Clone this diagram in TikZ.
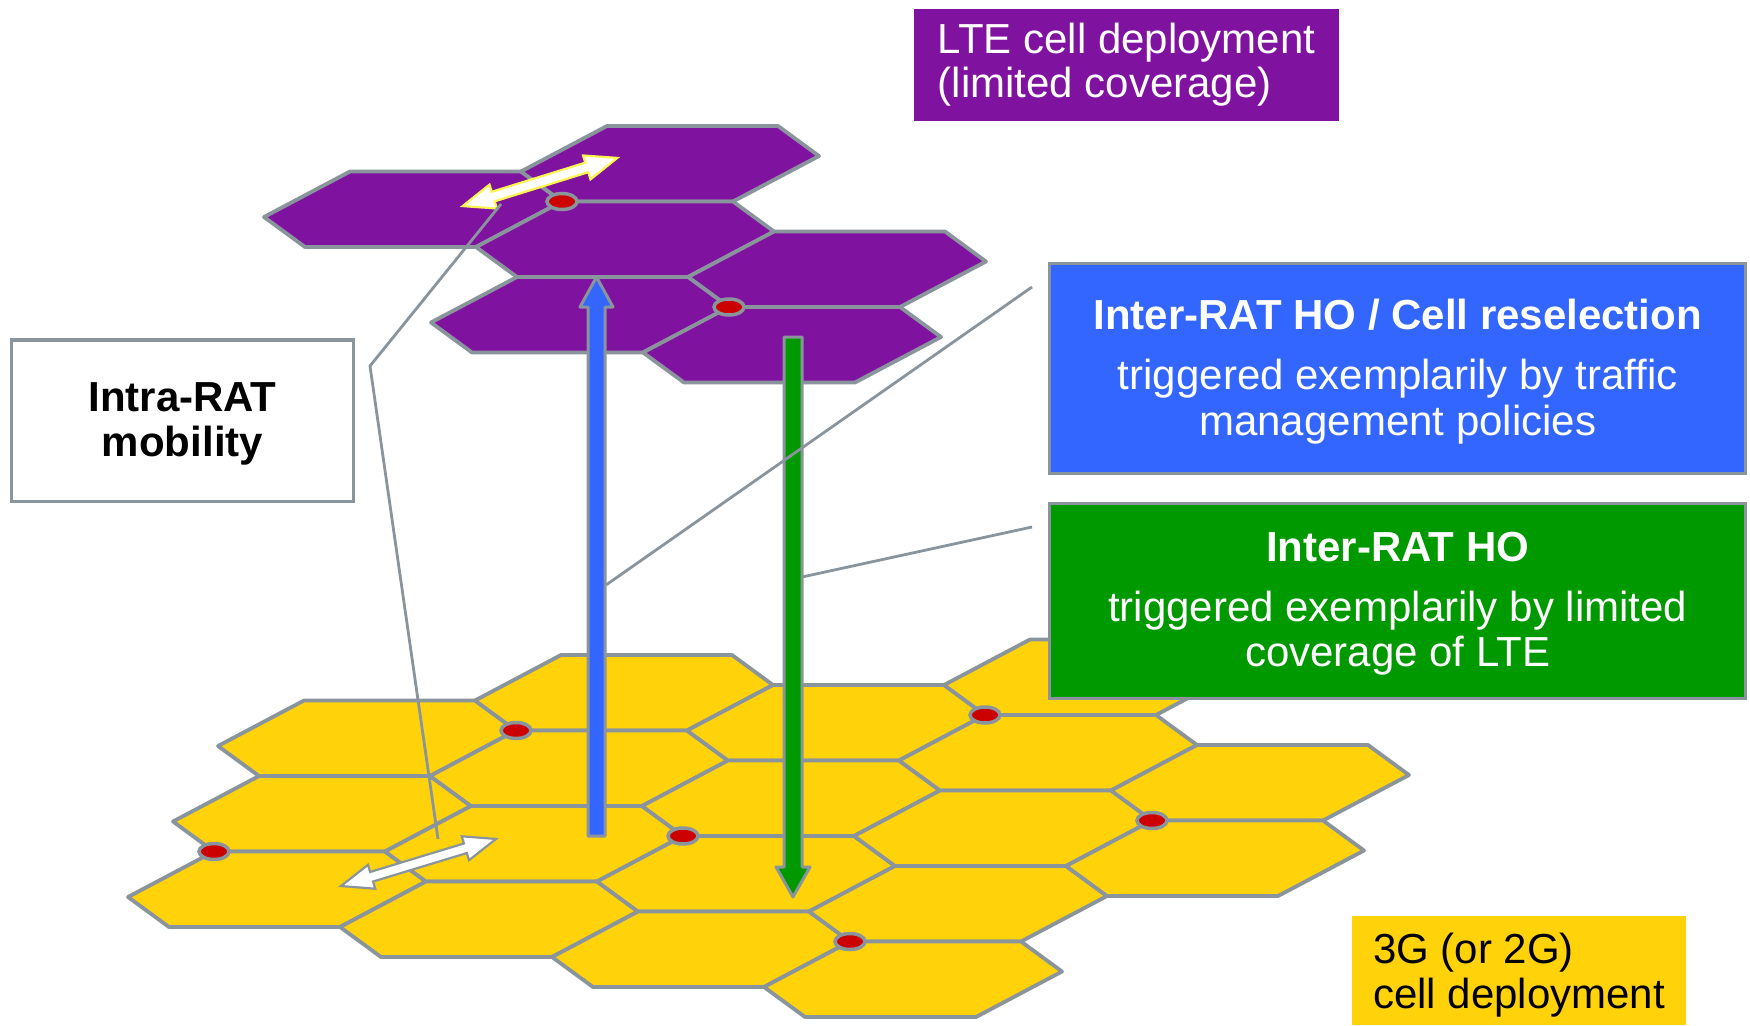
\documentclass[tikz,border=0pt]{standalone}
\usepackage{fontspec}
\setmainfont{Liberation Sans}

\definecolor{cellgray}{RGB}{138,148,156}
\definecolor{ltepurple}{RGB}{128,18,160}
\definecolor{umtsyellow}{RGB}{255,210,10}
\definecolor{hoblue}{RGB}{51,102,255}
\definecolor{hogreen}{RGB}{0,153,0}
\definecolor{bsred}{RGB}{204,0,0}
\definecolor{glowyellow}{RGB}{255,245,80}

\newcommand\boxfont{\fontsize{42pt}{46pt}\selectfont}

% one hexagonal cell: name, left corner, fill colour
\newcommand\hexcell[3]{%
  \path #2 coordinate (#1-L) ++(86,-45.5) coordinate (#1-TL) ++(171,0) coordinate (#1-TR)
        ++(41,30) coordinate (#1-R) ++(-86,45.5) coordinate (#1-BR) ++(-171,0) coordinate (#1-BL);
  \filldraw[cellline, fill=#3] (#1-L) -- (#1-TL) -- (#1-TR) -- (#1-R) -- (#1-BR) -- (#1-BL) -- cycle;}

% base station site
\newcommand\sitemark[1]{\filldraw[bsdot] (#1) ellipse [x radius=15pt, y radius=8pt];}

% block double arrow: centre, angle, fill, outline
\newcommand\twoway[4]{%
  \filldraw[fill=#3, draw=#4, line width=2.2pt, line join=miter, shift={#1}, rotate=#2]
    (-81,0) -- (-49,12.5) -- (-49,5) -- (49,5) -- (49,12.5) -- (81,0)
    -- (49,-12.5) -- (49,-5) -- (-49,-5) -- (-49,-12.5) -- cycle;}

\begin{document}
\begin{tikzpicture}[x=1pt,y=-1pt,
  cellline/.style={draw=cellgray, line width=3.8pt, line join=round},
  bsdot/.style={fill=bsred, draw=cellgray, line width=3.5pt},
  leader/.style={draw=cellgray, line width=2.8pt, line join=round},
  bigarrow/.style={draw=cellgray, line width=3pt, line join=round},
  infobox/.style={draw=cellgray, line width=3.3pt, text=white, align=center,
    inner sep=0pt, font=\boxfont, minimum width=696pt},
  labelbox/.style={inner sep=0pt, align=left}]

\path[use as bounding box] (0,0) rectangle (1750,1025);

% ---- 3G / 2G layer ----
\hexcell{y00}{(218,746)}{umtsyellow}
\hexcell{y10}{(475,700.5)}{umtsyellow}
\hexcell{ym11}{(173,821.5)}{umtsyellow}
\hexcell{y01}{(430,776)}{umtsyellow}
\hexcell{y11}{(687,730.5)}{umtsyellow}
\hexcell{y21}{(944,685)}{umtsyellow}
\hexcell{ym22}{(128,897)}{umtsyellow}
\hexcell{ym12}{(385,851.5)}{umtsyellow}
\hexcell{y02}{(642,806)}{umtsyellow}
\hexcell{y12}{(899,760.5)}{umtsyellow}
\hexcell{ym23}{(340,927)}{umtsyellow}
\hexcell{ym13}{(597,881.5)}{umtsyellow}
\hexcell{y03}{(854,836)}{umtsyellow}
\hexcell{y13}{(1111,790.5)}{umtsyellow}
\hexcell{ym24}{(552,957)}{umtsyellow}
\hexcell{ym14}{(809,911.5)}{umtsyellow}
\hexcell{y04}{(1066,866)}{umtsyellow}
\hexcell{ym25}{(764,987)}{umtsyellow}

\sitemark{y00-R}
\sitemark{ym11-BL}
\sitemark{y11-R}
\sitemark{y02-BL}
\sitemark{y13-BL}
\sitemark{ym14-BL}

\twoway{(418.5,862.5)}{16.9}{white}{cellgray}

% ---- LTE layer ----
\hexcell{pA}{(264,217)}{ltepurple}
\hexcell{pB}{(521,171.5)}{ltepurple}
\hexcell{pC}{(476,247)}{ltepurple}
\hexcell{pD}{(688,277)}{ltepurple}
\hexcell{pE}{(431,322.5)}{ltepurple}
\hexcell{pF}{(643,352.5)}{ltepurple}

\sitemark{pA-R}
\sitemark{pD-BL}

\twoway{(540,182)}{17.3}{white}{glowyellow}

% ---- handover arrows ----
\filldraw[bigarrow, fill=hoblue] (588,836) -- (588,307) -- (580,307) -- (596.5,277)
  -- (613,307) -- (605,307) -- (605,836) -- cycle;
\filldraw[bigarrow, fill=hogreen] (784,337) -- (802,337) -- (802,867) -- (810,867)
  -- (793,897) -- (776,867) -- (784,867) -- cycle;

% ---- labels ----
\node[labelbox, fill=ltepurple, text=white, minimum height=111.4pt,
  minimum width=425pt, font=\fontsize{42pt}{44pt}\selectfont] (ltelabel) at (1126.5,65)
  {LTE cell deployment\\(limited coverage)};

\node[labelbox, fill=umtsyellow, text=black, minimum height=109pt,
  minimum width=334pt, text depth=0pt,
  font=\fontsize{42pt}{45pt}\selectfont] (umtslabel) at (1519,970.5)
  {3G (or 2G)\\cell deployment};

\node[infobox, fill=hoblue, minimum height=210pt, text depth=3pt] (bluebox) at (1397.7,368.3)
  {{\bfseries Inter-RAT HO / Cell reselection}\\[14pt]
   triggered exemplarily by traffic\\ management policies};

\node[infobox, fill=hogreen, minimum height=195pt, text depth=3.5pt,
  font=\fontsize{42pt}{45pt}\selectfont] (greenbox) at (1397.7,600.8)
  {{\bfseries Inter-RAT HO}\\[15pt]
   triggered exemplarily by limited\\ coverage of LTE};

\node[draw=cellgray, line width=3.3pt, fill=white, text=black, align=center,
  inner sep=0pt, minimum width=341.6pt, minimum height=161.6pt, text depth=3.2pt,
  font=\fontsize{42pt}{45pt}\selectfont\bfseries] (intrabox) at (182.5,420.8)
  {Intra-RAT\\mobility};

% ---- leader lines ----
\coordinate (intraTop) at (501,204);
\coordinate (intraKnee) at (370,366);
\coordinate (intraFoot) at (438,839);
\draw[leader] (intraTop) -- (intraKnee) -- (intraFoot);

\coordinate (blueFrom) at (1032,287);
\coordinate (blueTo) at (606,585);
\draw[leader] (blueFrom) -- (blueTo);

\coordinate (greenFrom) at (1032,527);
\coordinate (greenTo) at (802,577);
\draw[leader] (greenFrom) -- (greenTo);

\end{tikzpicture}
\end{document}
